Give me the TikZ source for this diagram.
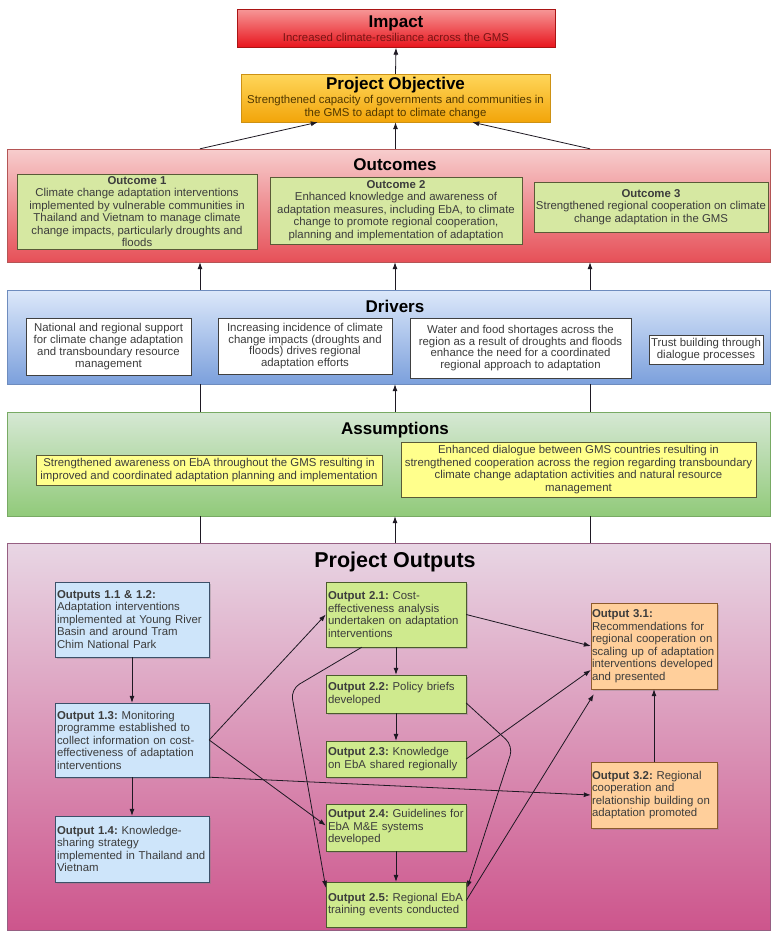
\documentclass[tikz,border=0pt]{standalone}
\usepackage{fontspec}
\setmainfont{Liberation Sans}
\usepackage{tikz}
\usetikzlibrary{calc,arrows.meta,shadows,positioning}
\definecolor{txtgrey}{RGB}{60,60,60}
\definecolor{linkcol}{RGB}{30,25,35}
\definecolor{impacttop}{RGB}{246,150,150}
\definecolor{impactbot}{RGB}{232,20,28}
\definecolor{impactline}{RGB}{170,20,20}
\definecolor{impacttxt}{RGB}{120,20,20}
\definecolor{objtop}{RGB}{255,214,90}
\definecolor{objbot}{RGB}{242,165,10}
\definecolor{objline}{RGB}{205,145,20}
\definecolor{objtxt}{RGB}{80,55,0}
\definecolor{outctop}{RGB}{247,205,205}
\definecolor{outcbot}{RGB}{230,80,88}
\definecolor{outcline}{RGB}{180,85,85}
\definecolor{drvtop}{RGB}{220,232,250}
\definecolor{drvbot}{RGB}{124,160,220}
\definecolor{drvline}{RGB}{110,140,190}
\definecolor{asstop}{RGB}{214,232,212}
\definecolor{assbot}{RGB}{145,202,122}
\definecolor{assline}{RGB}{120,170,100}
\definecolor{outptop}{RGB}{232,214,228}
\definecolor{outpbot}{RGB}{205,85,140}
\definecolor{outpline}{RGB}{150,95,130}
\definecolor{greenfill}{RGB}{214,232,162}
\definecolor{greenline}{RGB}{90,90,55}
\definecolor{yellowfill}{RGB}{255,255,140}
\definecolor{bluefill}{RGB}{206,229,250}
\definecolor{blueline}{RGB}{60,80,105}
\definecolor{limefill}{RGB}{207,234,142}
\definecolor{limeline}{RGB}{75,90,45}
\definecolor{orangefill}{RGB}{255,207,155}
\definecolor{orangeline}{RGB}{140,90,45}

\begin{document}
\frenchspacing
\begin{tikzpicture}[x=1pt,y=-1pt,font=\fontsize{11.4}{12.6}\selectfont]

\tikzset{panel/.style n args={3}{draw=#1,top color=#2,bottom color=#3,minimum width=763pt,inner sep=0pt},
topbox/.style n args={3}{draw=#1,top color=#2,bottom color=#3,align=center,inner sep=0pt},
paneltitle/.style={font=\fontsize{17}{18}\selectfont\bfseries,text=black},
outcomebox/.style={draw=greenline,fill=greenfill,align=center,inner sep=2pt,text=txtgrey,font=\fontsize{11.4}{12.5}\selectfont},
driverbox/.style={draw=black!75,fill=white,align=center,inner sep=2pt,text=txtgrey,font=\fontsize{11.4}{11.9}\selectfont},
assumbox/.style={draw=greenline,fill=yellowfill,align=center,inner sep=2pt,text=txtgrey,font=\fontsize{11.4}{12.6}\selectfont},
outbox/.style n args={3}{draw=#1,fill=#2,text width=#3,align=left,inner xsep=2pt,inner ysep=2pt,text=txtgrey,font=\fontsize{11.4}{12.5}\selectfont,drop shadow={shadow xshift=1.5pt,shadow yshift=-1.5pt,opacity=.35}},
link/.style={draw=linkcol,line width=.8pt,-{Latex[length=7pt,width=5pt]}},
plain/.style={draw=linkcol,line width=.8pt}}

\useasboundingbox[fill=white] (0,0) rectangle (772,932);

% Impact and objective
\node[topbox={impactline}{impacttop}{impactbot},minimum width=318pt,minimum height=38pt] (impact) at (396,28.5)
  {{\fontsize{17}{18}\selectfont\bfseries Impact}\\[1.5pt]{\color{impacttxt}Increased climate-resiliance across the GMS}};
\node[topbox={objline}{objtop}{objbot},minimum width=309pt,minimum height=48pt] (objective) at (395.5,98)
  {{\fontsize{17}{18}\selectfont\bfseries Project Objective}\\[1.5pt]{\color{objtxt}Strengthened capacity of governments and communities in}\\[0.4pt]{\color{objtxt}the GMS to adapt to climate change}};

% Panels
\node[panel={outcline}{outctop}{outcbot},minimum height=113pt] (outcomes) at (388.5,205.5) {};
\node[panel={drvline}{drvtop}{drvbot},minimum height=94pt] (drivers) at (388.5,337) {};
\node[panel={assline}{asstop}{assbot},minimum height=104pt] (assumptions) at (388.5,464) {};
\node[panel={outpline}{outptop}{outpbot},minimum height=387pt] (outputs) at (388.5,736.5) {};

\node[paneltitle] (outcomesTitle) at (395,165) {Outcomes};
\node[paneltitle] (driversTitle) at (395,306) {Drivers};
\node[paneltitle] (assumptionsTitle) at (395,430) {Assumptions};
\node[paneltitle,font=\fontsize{21.5}{23}\selectfont\bfseries] (outputsTitle) at (395,562) {Project Outputs};

% Outcomes
\node[outcomebox,minimum width=240pt,minimum height=75pt] (oc1) at (137,211.5)
  {{\bfseries Outcome 1}\\Climate change adaptation interventions\\implemented by vulnerable communities in\\Thailand and Vietnam to manage climate\\change impacts, particularly droughts and\\floods};
\node[outcomebox,minimum width=252pt,minimum height=67pt] (oc2) at (396,210.5)
  {{\bfseries Outcome 2}\\Enhanced knowledge and awareness of\\adaptation measures, including EbA, to climate\\change to promote regional cooperation,\\planning and implementation of adaptation};
\node[outcomebox,minimum width=234pt,minimum height=50pt] (oc3) at (651,207)
  {{\bfseries Outcome 3}\\Strengthened regional cooperation on climate\\change adaptation in the GMS};

% Drivers
\node[driverbox,minimum width=165pt,minimum height=57pt] (dr1) at (108.5,346.5)
  {National and regional support\\for climate change adaptation\\and transboundary resource\\management};
\node[driverbox,minimum width=174pt,minimum height=56pt] (dr2) at (305,346)
  {Increasing incidence of climate\\change impacts (droughts and\\floods) drives regional\\adaptation efforts};
\node[driverbox,minimum width=221pt,minimum height=60pt] (dr3) at (520.5,348)
  {Water and food shortages across the\\region as a result of droughts and floods\\enhance the need for a coordinated\\regional approach to adaptation};
\node[driverbox,minimum width=114pt,minimum height=29pt] (dr4) at (706,349.5)
  {Trust building through\\dialogue processes};

% Assumptions
\node[assumbox,minimum width=346pt,minimum height=30pt] (as1) at (209,470)
  {Strengthened awareness on EbA throughout the GMS resulting in\\improved and coordinated adaptation planning and implementation};
\node[assumbox,minimum width=355pt,minimum height=55pt] (as2) at (578.5,469.5)
  {Enhanced dialogue between GMS countries resulting in\\strengthened cooperation across the region regarding transboundary\\climate change adaptation activities and natural resource\\management};

% Project outputs
\node[outbox={blueline}{bluefill}{150pt},minimum height=75pt] (o11) at (132,619.5)
  {\textbf{Outputs 1.1 \& 1.2:}\\Adaptation interventions\\implemented at Young River\\Basin and around Tram\\Chim National Park};
\node[outbox={blueline}{bluefill}{150pt},minimum height=74pt] (o13) at (132,740)
  {\textbf{Output 1.3:} Monitoring\\programme established to\\collect information on cost-\\effectiveness of adaptation\\interventions};
\node[outbox={blueline}{bluefill}{150pt},minimum height=66pt] (o14) at (132,849)
  {\textbf{Output 1.4:} Knowledge-\\sharing strategy\\implemented in Thailand and\\Vietnam};
\node[outbox={limeline}{limefill}{136pt},minimum height=65pt] (o21) at (396,614.5)
  {\textbf{Output 2.1:} Cost-\\effectiveness analysis\\undertaken on adaptation\\interventions};
\node[outbox={limeline}{limefill}{136pt},minimum height=38pt] (o22) at (396,694)
  {\textbf{Output 2.2:} Policy briefs\\developed};
\node[outbox={limeline}{limefill}{136pt},minimum height=36pt] (o23) at (396,759)
  {\textbf{Output 2.3:} Knowledge\\on EbA shared regionally};
\node[outbox={limeline}{limefill}{136pt},minimum height=47pt] (o24) at (396,827.5)
  {\textbf{Output 2.4:} Guidelines for\\EbA M\&E systems\\developed};
\node[outbox={limeline}{limefill}{136pt},minimum height=45pt] (o25) at (396,904.5)
  {\textbf{Output 2.5:} Regional EbA\\training events conducted};
\node[outbox={orangeline}{orangefill}{124pt},inner xsep=1pt,minimum height=86pt] (o31) at (654,646)
  {\textbf{Output 3.1:}\\Recommendations for\\regional cooperation on\\scaling up of adaptation\\interventions developed\\and presented};
\node[outbox={orangeline}{orangefill}{124pt},inner xsep=1pt,minimum height=66pt] (o32) at (654,795)
  {\textbf{Output 3.2:} Regional\\cooperation and\\relationship building on\\adaptation promoted};

% Links between levels
\draw[link] (objective.north) -- (impact.south);
\draw[link] (outcomes.north -| 200,0) -- ($(objective.south west)+(77,0)$);
\draw[link] (outcomes.north -| objective.south) -- (objective.south);
\draw[link] (outcomes.north -| 590,0) -- ($(objective.south east)+(-78,0)$);
\foreach \x in {200,395,590} \draw[link] (drivers.north -| \x,0) -- (outcomes.south -| \x,0);
\foreach \x in {200,590} \draw[plain] (assumptions.north -| \x,0) -- (drivers.south -| \x,0);
\draw[link] (assumptions.north -| 395,0) -- (drivers.south -| 395,0);
\foreach \x in {200,590} \draw[plain] (outputs.north -| \x,0) -- (assumptions.south -| \x,0);
\draw[link] (outputs.north -| 395,0) -- (assumptions.south -| 395,0);

% Links between outputs
\draw[link] (o11.south) -- (o13.north);
\draw[link] (o13.south) -- (o14.north);
\draw[link] (o21.south) -- (o22.north);
\draw[link] (o22.south) -- (o23.north);
\draw[link] (o24.south) -- (o25.north);
\draw[link] (o32.north) -- (o31.south);
\draw[link] (o13.east) -- (o21.west);
\draw[link] (o13.east) -- ($(o24.west)+(0,-2)$);
\draw[link] (o13.south east) -- (o32.west);
\draw[link] (o21.east) -- (o31.west);
\draw[link] (o23.east) -- ($(o31.west)+(0,24)$);
\draw[link] ($(o25.east)+(0,-4)$) -- ($(o31.south west)+(3,5)$);
\draw[link,rounded corners=10pt] ($(o21.south west)+(36,0)$) -- ($(o21.south west)+(-35,42)$) -- ($(o25.north west)+(0,6)$);
\draw[link,rounded corners=10pt] ($(o22.east)+(0,9)$) -- ($(o22.east)+(47,52)$) -- ($(o25.north east)+(1,6)$);

\end{tikzpicture}
\end{document}
